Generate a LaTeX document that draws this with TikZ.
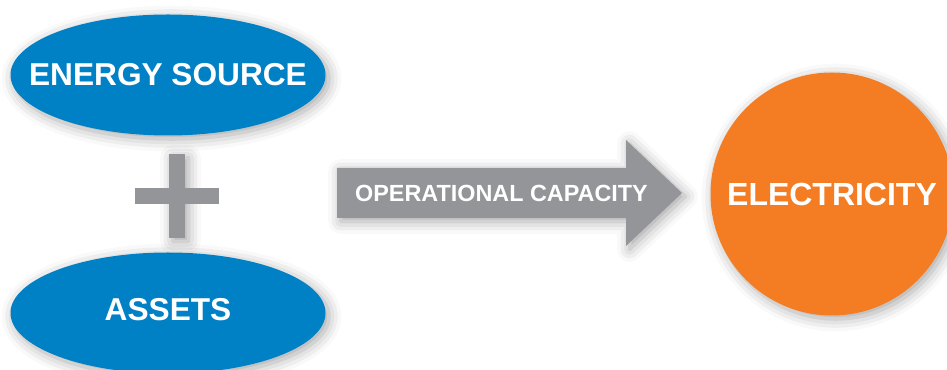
\documentclass[tikz,border=0pt]{standalone}
\usepackage{fontspec}
\setmainfont{Liberation Sans}
\usetikzlibrary{shapes.geometric,shadows.blur}
\definecolor{srcblue}{HTML}{0081C6}
\definecolor{capgray}{HTML}{939598}
\definecolor{elecorange}{HTML}{F47C22}
\tikzset{
    soft/.style = {blur shadow={shadow xshift=2pt, shadow yshift=-2pt,
        shadow blur radius=7pt, shadow opacity=35}},
    inputs/.style = {ellipse, fill=srcblue, soft, inner sep=0pt,
        minimum width=6.3cm, minimum height=2.42cm},
    inlabel/.style = {text=white, font=\bfseries\fontsize{18}{21}\selectfont},
    output/.style = {circle, fill=elecorange, soft, text=white,
        minimum size=4.86cm, inner sep=0pt,
        font=\bfseries\fontsize{18.2}{21}\selectfont}
}
\begin{document}
\begin{tikzpicture}
        \useasboundingbox (0,0) rectangle (18.94,-7.4);
        \clip (0,0) rectangle (18.94,-7.4);
        \node [inputs] (source) at (3.36,-1.5) {};
        \node [inlabel] (sourcelabel) at (source.center) {ENERGY SOURCE};
        \node [inputs] (assets) at (3.36,-6.26) {};
        \node [inlabel] (assetslabel) at (3.36,-6.2) {ASSETS};
        \fill [capgray, soft] (3.38,-3.08) rectangle (3.70,-4.76);
        \fill [capgray] (2.70,-3.76) rectangle (4.38,-4.08);
        \fill [capgray, soft] (6.74,-3.36) -- (12.52,-3.36) -- (12.52,-2.80)
            -- (13.64,-3.86) -- (12.52,-4.92) -- (12.52,-4.36)
            -- (6.74,-4.36) -- cycle;
        \node [text=white, font=\bfseries\fontsize{13.3}{15}\selectfont]
            (capacity) at (10.03,-3.86) {OPERATIONAL CAPACITY};
        \node [output] (electricity) at (16.64,-3.88) {ELECTRICITY};
    \end{tikzpicture}
\end{document}
